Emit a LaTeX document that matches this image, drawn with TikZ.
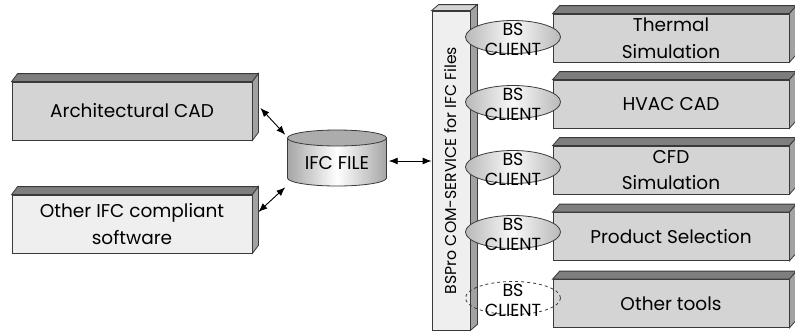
\documentclass[tikz,border=0pt]{standalone}
\usepackage{fontspec}
\setmainfont{Poppins}
\usetikzlibrary{arrows.meta,calc,shapes.geometric}
\definecolor{fronte}{HTML}{D4D4D4}
\definecolor{chiaro}{HTML}{EFEFEF}
\definecolor{sopra}{HTML}{7E7E7E}
\definecolor{lato}{HTML}{A2A2A2}
\definecolor{bordo}{HTML}{3A3A3A}
\begin{document}
\begin{tikzpicture}[x=1pt,y=-1pt,
    font=\fontsize{18.5}{26.5}\selectfont,
    scatola/.style={draw=bordo,line width=0.8pt,fill=fronte,align=center,inner sep=0pt},
    faccia/.style={draw=bordo,line width=0.8pt,fill=sopra},
    fianco/.style={draw=bordo,line width=0.8pt,fill=lato},
    ovale/.style={ellipse,draw=bordo,line width=0.8pt,minimum width=95,minimum height=33,inner sep=0pt,
        label={[align=center,yshift=-2.5pt,font=\fontsize{17.5}{20}\selectfont]center:BS\\CLIENT}},
    client/.style={ovale,left color=gray!55,right color=gray!55,middle color=gray!5},
    freccia/.style={{Latex[length=9pt,width=7pt]}-{Latex[length=9pt,width=7pt]},line width=0.9pt,draw=black}]
    \useasboundingbox (0,0) rectangle (795,332);
    % Sinistra
    \node[scatola, minimum width=240, minimum height=58] (arch) at (132,111) {Architectural CAD};
    \node[scatola, fill=chiaro, minimum width=240, minimum height=58] (other) at (132,224) {Other IFC compliant\\software};
    \draw[faccia] (arch.north west) -- ++(6,-8) -- ($(arch.north east)+(6,-8)$) -- (arch.north east) -- cycle;
    \draw[fianco] (arch.north east) -- ++(6,-8) -- ($(arch.south east)+(6,-8)$) -- (arch.south east) -- cycle;
    \draw[faccia] (other.north west) -- ++(6,-8) -- ($(other.north east)+(6,-8)$) -- (other.north east) -- cycle;
    \draw[fianco] (other.north east) -- ++(6,-8) -- ($(other.south east)+(6,-8)$) -- (other.south east) -- cycle;
    % Cilindro
    \shade[draw=bordo, line width=0.8pt, left color=gray!70, right color=gray!70, middle color=white]
        (287.5,138) -- (287.5,178) arc[start angle=180, end angle=0, x radius=49.5, y radius=8] -- (386.5,138) -- cycle;
    \draw[draw=bordo, line width=0.8pt, fill=gray!65] (337,138) ellipse [x radius=49.5, y radius=8];
    \node[minimum width=99, minimum height=50, inner sep=0pt] (ifc) at (337,163) {IFC FILE};
    % Barra
    \node[scatola, fill=chiaro, minimum width=38, minimum height=319,
        label={[rotate=90,font=\fontsize{15.7}{18}\selectfont]center:BSPro COM-SERVICE for IFC Files}] (bar) at (451,170.5) {};
    \draw[faccia, fill=fronte] (bar.north west) -- ++(7,-6) -- ($(bar.north east)+(7,-6)$) -- (bar.north east) -- cycle;
    \draw[fianco] (bar.north east) -- ++(7,-6) -- ($(bar.south east)+(7,-6)$) -- (bar.south east) -- cycle;
    % Destra
    \node[scatola, minimum width=236, minimum height=48] (t1) at (671,38) {Thermal\\Simulation};
    \node[scatola, minimum width=236, minimum height=48] (t2) at (671,104) {HVAC CAD};
    \node[scatola, minimum width=236, minimum height=48] (t3) at (671,170) {CFD\\Simulation};
    \node[scatola, minimum width=236, minimum height=48] (t4) at (671,236.5) {Product Selection};
    \node[scatola, minimum width=236, minimum height=48] (t5) at (671,303.5) {Other tools};
    \draw[faccia] (t1.north west) -- ++(7,-8) -- ($(t1.north east)+(7,-8)$) -- (t1.north east) -- cycle;
    \draw[fianco] (t1.north east) -- ++(7,-8) -- ($(t1.south east)+(7,-8)$) -- (t1.south east) -- cycle;
    \draw[faccia] (t2.north west) -- ++(7,-8) -- ($(t2.north east)+(7,-8)$) -- (t2.north east) -- cycle;
    \draw[fianco] (t2.north east) -- ++(7,-8) -- ($(t2.south east)+(7,-8)$) -- (t2.south east) -- cycle;
    \draw[faccia] (t3.north west) -- ++(7,-8) -- ($(t3.north east)+(7,-8)$) -- (t3.north east) -- cycle;
    \draw[fianco] (t3.north east) -- ++(7,-8) -- ($(t3.south east)+(7,-8)$) -- (t3.south east) -- cycle;
    \draw[faccia] (t4.north west) -- ++(7,-8) -- ($(t4.north east)+(7,-8)$) -- (t4.north east) -- cycle;
    \draw[fianco] (t4.north east) -- ++(7,-8) -- ($(t4.south east)+(7,-8)$) -- (t4.south east) -- cycle;
    \draw[faccia] (t5.north west) -- ++(7,-8) -- ($(t5.north east)+(7,-8)$) -- (t5.north east) -- cycle;
    \draw[fianco] (t5.north east) -- ++(7,-8) -- ($(t5.south east)+(7,-8)$) -- (t5.south east) -- cycle;
    % Client
    \node[client] (c1) at (513,37) {};
    \node[client] (c2) at (513,102) {};
    \node[client] (c3) at (513,167) {};
    \node[client] (c4) at (513,232) {};
    \node[ovale, dashed] (c5) at (513,298) {};
    % Frecce
    \draw[freccia] ($(arch.east)+(8,-3)$) -- ($(ifc.north west)+(-2,-3)$);
    \draw[freccia] ($(ifc.south west)+(-2,-1)$) -- ($(other.east)+(6,-12)$);
    \draw[freccia] ($(ifc.east)+(2,-2)$) -- ($(ifc.east -| bar.west)+(0,-2)$);
\end{tikzpicture}
\end{document}
